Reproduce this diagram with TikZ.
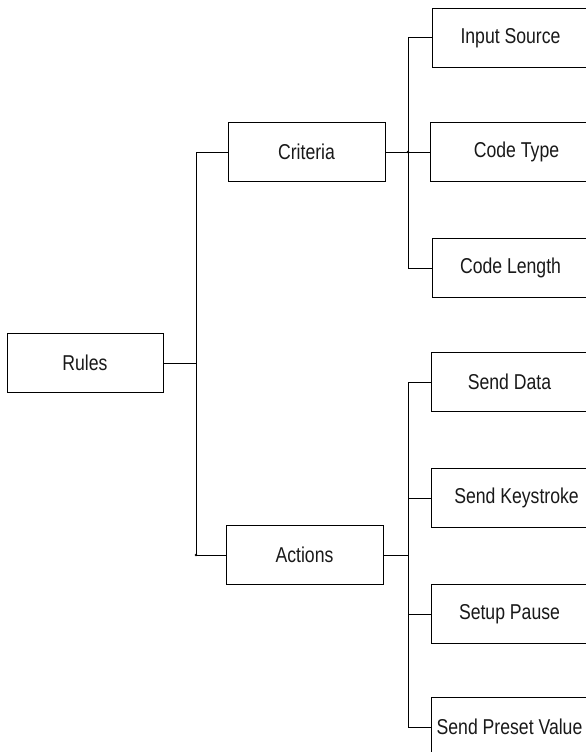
\documentclass[tikz,border=0pt]{standalone}
\usepackage{fontspec}
\setmainfont{Liberation Sans}[FakeStretch=0.82]
\begin{document}
\begin{tikzpicture}[x=1pt,y=-1pt,
  box/.style={draw=black, line width=1pt, fill=white, rectangle, minimum width=157pt, minimum height=59pt, inner sep=0pt, font=\fontsize{21.5}{25}\selectfont, text=black!90},
  wire/.style={draw=black, line width=1pt}]
\useasboundingbox (0,0) rectangle (586,752);
\fill[white] (0,0) rectangle (586,752);
\clip (0,0) rectangle (586,752);
% nodes
\node[box, minimum width=156pt] (rules) at (85,363) {Rules};
\node[box] (crit) at (306.5,152) {Criteria};
\node[box] (act) at (304.5,555) {Actions};
\node[box] (insrc) at (510.5,38) {Input Source};
\node[box] (ctype) at (508.5,152) {\hspace{16pt}Code Type};
\node[box] (clen) at (510.5,268) {Code Length};
\node[box] (sdata) at (509.5,382) {Send Data};
\node[box] (skey) at (509.5,498) {\hspace{14pt}Send Keystroke};
\node[box] (spause) at (509.5,614) {Setup Pause};
\node[box] (spv) at (509.5,727) {Send Preset Value};
% bus coordinates
\coordinate (b1) at (196,0);
\coordinate (b2) at (408,0);
% connectors
\draw[wire] (crit.west) -- (crit.west -| b1) |- (act.west);
\draw[wire] (rules.east) -- (rules.east -| b1);
\draw[wire] (insrc.west) -- (insrc.west -| b2) |- (clen.west);
\draw[wire] (crit.east) -- (ctype.west);
\draw[wire] (sdata.west) -- (sdata.west -| b2) |- (spv.west);
\draw[wire] (skey.west) -- (skey.west -| b2);
\draw[wire] (spause.west) -- (spause.west -| b2);
\draw[wire] (act.east) -- (act.east -| b2);
\fill (crit.east -| b2) circle (1.3pt);
\fill (act.west -| b1) circle (1.3pt);
\end{tikzpicture}
\end{document}
